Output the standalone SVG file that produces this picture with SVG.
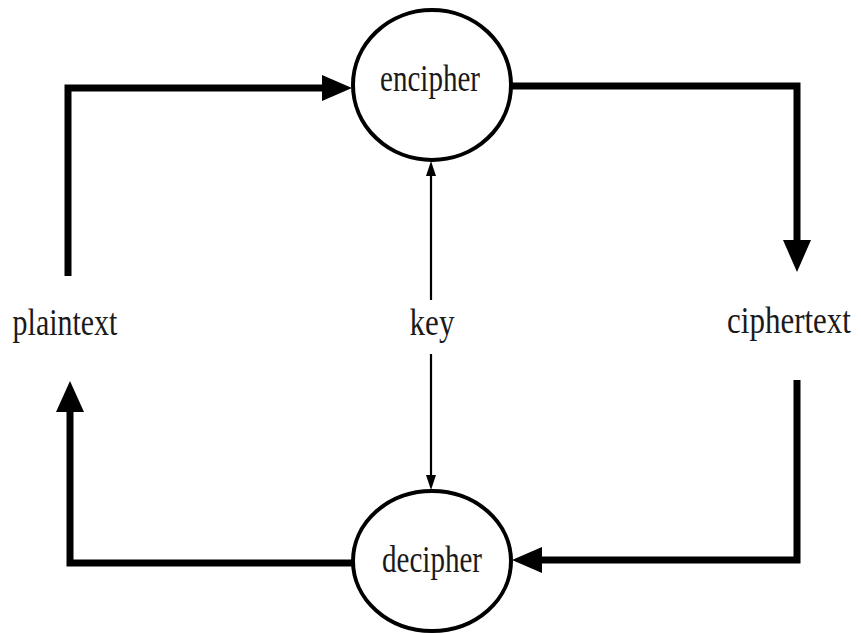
<svg xmlns="http://www.w3.org/2000/svg" width="861" height="634" viewBox="0 0 861 634">
<style>
.node{fill:#fff;stroke:#000;stroke-width:4}
.lbl{font-family:"Liberation Serif","Times New Roman",serif;font-size:37px;fill:#1a1a1a;text-anchor:middle}
.thick{fill:none;stroke:#000;stroke-width:7;stroke-linejoin:miter}
.thin{fill:none;stroke:#000;stroke-width:2.2}
.head{fill:#000}
</style>
<rect width="861" height="634" fill="#fff"/>
<g id="connectors">
<path class="thick" d="M68,276 V88 H326"/>
<polygon class="head" points="352,88 322,75 322,101"/>
<path class="thick" d="M512,86 H797 V244"/>
<polygon class="head" points="797,272 783,240 811,240"/>
<path class="thick" d="M797,380 V560 H540"/>
<polygon class="head" points="512,560 542,547 542,573"/>
<path class="thick" d="M352,563 H70 V408"/>
<polygon class="head" points="70,381 56,412 84,412"/>
<path class="thin" d="M431,172 V300"/>
<path class="thin" d="M431,354 V478"/>
<polygon class="head" points="431,161 426,176 436,176"/>
<polygon class="head" points="431,490 426,475 436,475"/>
</g>
<g id="encipher">
<ellipse class="node" cx="432" cy="85" rx="79" ry="75"/>
<text class="lbl" transform="translate(430,91) scale(0.785,1)">encipher</text>
</g>
<g id="decipher">
<ellipse class="node" cx="432" cy="561" rx="79" ry="70"/>
<text class="lbl" transform="translate(432,572) scale(0.785,1)">decipher</text>
</g>
<g id="plaintext">
<text class="lbl" transform="translate(65,335) scale(0.81,1)">plaintext</text>
</g>
<g id="ciphertext">
<text class="lbl" transform="translate(789,333) scale(0.838,1)">ciphertext</text>
</g>
<g id="key">
<text class="lbl" transform="translate(432,335) scale(0.84,1)">key</text>
</g>
</svg>
